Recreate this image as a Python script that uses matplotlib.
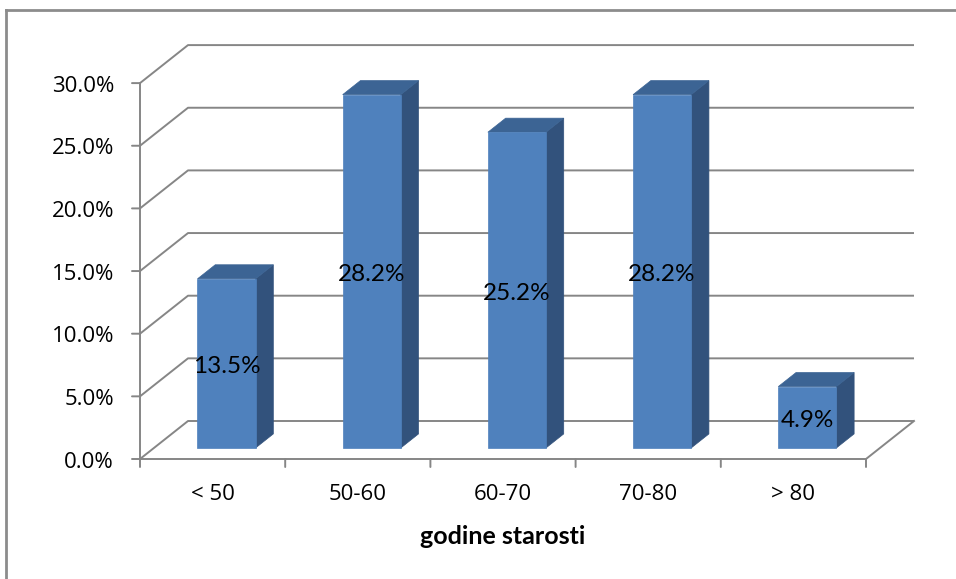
import matplotlib
matplotlib.use('Agg')
import matplotlib.pyplot as plt
from matplotlib.patches import Polygon
from matplotlib.lines import Line2D

# data
categories = ['< 50', '50-60', '60-70', '70-80', '> 80']
shares = [13.5, 28.2, 25.2, 28.2, 4.9]
value_labels = ['13.5%', '28.2%', '25.2%', '28.2%', '4.9%']
y_ticks = [0, 5, 10, 15, 20, 25, 30]
y_tick_labels = ['0.0%', '5.0%', '10.0%', '15.0%', '20.0%', '25.0%', '30.0%']
x_title = 'godine starosti'

# pseudo-3D layout (front plane in data units, depth 0..1 shifts up/right)
DX = 48 / 145.2      # category units per full depth
DY = 38 / 12.53      # percent units per full depth
D0, D1 = 0.29, 0.66  # depth range of the columns
HALF_W = 0.2

GRID = '#868686'
FRONT = '#4f81bd'
TOP = '#3c6494'
SIDE = '#32527c'


def proj(x, v, d):
    return (x + d * DX, v + d * DY)


fig = plt.figure(figsize=(9.56, 5.79), dpi=100)
ax = fig.add_axes([0, 0, 1, 1])
ax.set_xlim(-140 / 145.2, 816 / 145.2)
ax.set_ylim(-120 / 12.53, 459 / 12.53)
ax.axis('off')

n = len(categories)

# walls: gridlines go diagonally back, then along the back wall
for v in y_ticks:
    xs, ys = zip(proj(0, v, 0), proj(0, v, 1), proj(n, v, 1))
    ax.plot(xs, ys, color=GRID, lw=1.4, zorder=1, solid_capstyle='butt')

# floor right edge and front axis lines
xs, ys = zip(proj(n, 0, 1), proj(n, 0, 0), proj(0, 0, 0), proj(0, y_ticks[-1], 0))
ax.plot(xs, ys, color=GRID, lw=1.4, zorder=1)

# tick marks and labels
for v, lab in zip(y_ticks, y_tick_labels):
    ax.annotate('', xy=(0, v), xytext=(-8, 0), textcoords='offset pixels',
                arrowprops=dict(arrowstyle='-', color=GRID, lw=1.4,
                                shrinkA=0, shrinkB=0))
    ax.annotate(lab, xy=(0, v), xytext=(-26, -3), textcoords='offset pixels',
                ha='right', va='center', fontsize=16,
                family=['Open Sans', 'DejaVu Sans'])
for i in range(n + 1):
    ax.annotate('', xy=(i, 0), xytext=(0, -8), textcoords='offset pixels',
                arrowprops=dict(arrowstyle='-', color=GRID, lw=1.4,
                                shrinkA=0, shrinkB=0))

# category labels and axis title
for i, cat in enumerate(categories):
    ax.annotate(cat, xy=(i + 0.5, 0), xytext=(0, -36), textcoords='offset pixels',
                ha='center', va='center', fontsize=16,
                family=['Open Sans', 'DejaVu Sans'])
ax.annotate(x_title, xy=(n / 2, 0), xytext=(0, -77), textcoords='offset pixels',
            ha='center', va='center', fontsize=18, fontweight='bold',
            family=['Lato', 'DejaVu Sans'])

# columns
for i, v in enumerate(shares):
    x0, x1 = i + 0.5 - HALF_W, i + 0.5 + HALF_W
    front = [proj(x0, 0, D0), proj(x1, 0, D0), proj(x1, v, D0), proj(x0, v, D0)]
    top = [proj(x0, v, D0), proj(x1, v, D0), proj(x1, v, D1), proj(x0, v, D1)]
    side = [proj(x1, 0, D0), proj(x1, 0, D1), proj(x1, v, D1), proj(x1, v, D0)]
    ax.add_patch(Polygon(side, closed=True, fc=SIDE, ec=SIDE, lw=0.5, zorder=3))
    ax.add_patch(Polygon(top, closed=True, fc=TOP, ec=TOP, lw=0.5, zorder=3))
    ax.add_patch(Polygon(front, closed=True, fc=FRONT, ec=FRONT, lw=0.5, zorder=4))
    cx, cy = proj(i + 0.5, v / 2, D0)
    ax.annotate(value_labels[i], xy=(cx, cy), xytext=(0, -3),
                textcoords='offset pixels', ha='center', va='center',
                fontsize=17.5, family=['Lato', 'DejaVu Sans'], zorder=5)

# chart area border
fig.add_artist(Line2D([6 / 956, 1], [1 - 10 / 579, 1 - 10 / 579],
                      transform=fig.transFigure, color='#8c8c8c', lw=2))
fig.add_artist(Line2D([6 / 956, 6 / 956], [0, 1 - 10 / 579],
                      transform=fig.transFigure, color='#8c8c8c', lw=2))

fig.savefig('out.png', dpi=100)
